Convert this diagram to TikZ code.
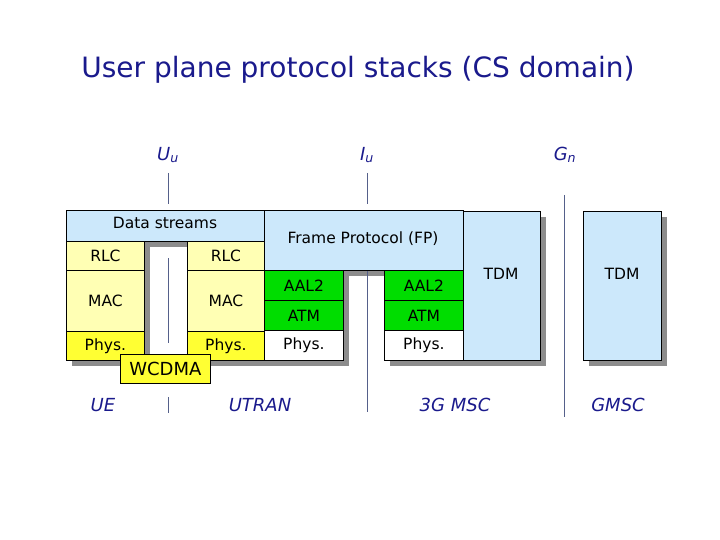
\documentclass[tikz,border=0pt]{standalone}
\usepackage{fontspec}
\setmainfont{DejaVu Sans}
\begin{document}
\begin{tikzpicture}[x=1pt,y=-1pt,
  box/.style={draw=black,line width=0.8pt,inner sep=0pt,font=\fontsize{15.5}{17}\selectfont},
  lb/.style={box,fill=lblue},
  ly/.style={box,fill=lyel},
  yy/.style={box,fill=yel},
  gr/.style={box,fill=grn},
  wh/.style={box,fill=white},
  txt/.style={font=\fontsize{15.5}{17}\selectfont},
  shd/.style={fill=shadowgray,draw=none},
  ifc/.style={draw=lineblue,line width=0.6pt},
  lab/.style={text=navy,font=\fontsize{18}{20}\selectfont\itshape}]
\definecolor{lblue}{HTML}{CCE8FB}
\definecolor{lyel}{HTML}{FFFFB4}
\definecolor{yel}{HTML}{FFFF33}
\definecolor{grn}{HTML}{00DD00}
\definecolor{shadowgray}{HTML}{8C8C8C}
\definecolor{navy}{HTML}{1A1A8C}
\definecolor{lineblue}{HTML}{55608A}
\useasboundingbox (0,0) rectangle (720,540);
\node[text=navy,font=\fontsize{28}{32}\selectfont] (title) at (358,70) {User plane protocol stacks (CS domain)};
% shadows
\foreach \a/\b/\c/\d in {66/210/264/241, 66/241/144/360, 187/241/264/360, 264/210/463/270, 264/270/343/360, 384/270/463/360, 463/211/540/360, 583/211/661/360}
  \fill[shd] (\a+6,\b+6) rectangle (\c+6,\d+6);
% interface lines
\draw[ifc] (168,258) -- (168,343);
\draw[ifc] (367,258) -- (367,412);
% boxes
\node[lb,minimum width=198,minimum height=31,anchor=north west] (ds) at (66,210) {};
\node[txt] (dst) at (165,223) {Data streams};
\node[ly,minimum width=78,minimum height=29,anchor=north west] (rlc1) at (66,241) {RLC};
\node[ly,minimum width=78,minimum height=61,anchor=north west] (mac1) at (66,270) {MAC};
\node[yy,minimum width=78,minimum height=29,anchor=north west] (ph1) at (66,331) {Phys.};
\node[ly,minimum width=77,minimum height=29,anchor=north west] (rlc2) at (187,241) {RLC};
\node[ly,minimum width=77,minimum height=61,anchor=north west] (mac2) at (187,270) {MAC};
\node[yy,minimum width=77,minimum height=29,anchor=north west] (ph2) at (187,331) {Phys.};
\node[lb,minimum width=199,minimum height=60,anchor=north west] (fp) at (264,210) {};
\node[txt] (fpt) at (363,239) {Frame Protocol (FP)};
\node[gr,minimum width=79,minimum height=30,anchor=north west] (aal1) at (264,270) {AAL2};
\node[gr,minimum width=79,minimum height=30,anchor=north west] (atm1) at (264,300) {ATM};
\node[wh,minimum width=79,minimum height=30,anchor=north west] (p3) at (264,330) {Phys.};
\node[gr,minimum width=79,minimum height=30,anchor=north west] (aal2) at (384,270) {AAL2};
\node[gr,minimum width=79,minimum height=30,anchor=north west] (atm2) at (384,300) {ATM};
\node[wh,minimum width=79,minimum height=30,anchor=north west] (p4) at (384,330) {Phys.};
\node[lb,minimum width=77,minimum height=149,anchor=north west] (tdm1) at (463,211) {};
\node[txt] (tdm1t) at (501,274) {TDM};
\node[lb,minimum width=78,minimum height=149,anchor=north west] (tdm2) at (583,211) {};
\node[txt] (tdm2t) at (622,274) {TDM};
\node[yy,minimum width=90,minimum height=29,anchor=north west,font=\fontsize{18}{20}\selectfont] (wc) at (120,354) {WCDMA};
% interface labels
\node[lab] (uu) at (168,155) {U\textsubscript{u}};
\node[lab] (iu) at (367,155) {I\textsubscript{u}};
\node[lab] (gn) at (565,155) {G\textsubscript{n}};
\coordinate (uua) at (168,173); \coordinate (uub) at (168,204);
\coordinate (iua) at (367,173); \coordinate (iub) at (367,204);
\coordinate (gna) at (564,195); \coordinate (gnb) at (564,417);
\coordinate (uec) at (168,397); \coordinate (ued) at (168,413);
\draw[ifc] (uua) -- (uub);
\draw[ifc] (iua) -- (iub);
\draw[ifc] (gna) -- (gnb);
\draw[ifc] (uec) -- (ued);
\node[lab] (ue) at (103,405) {UE};
\node[lab] (utran) at (260,405) {UTRAN};
\node[lab] (msc) at (455,405) {3G MSC};
\node[lab] (gmsc) at (618,405) {GMSC};
\end{tikzpicture}
\end{document}
